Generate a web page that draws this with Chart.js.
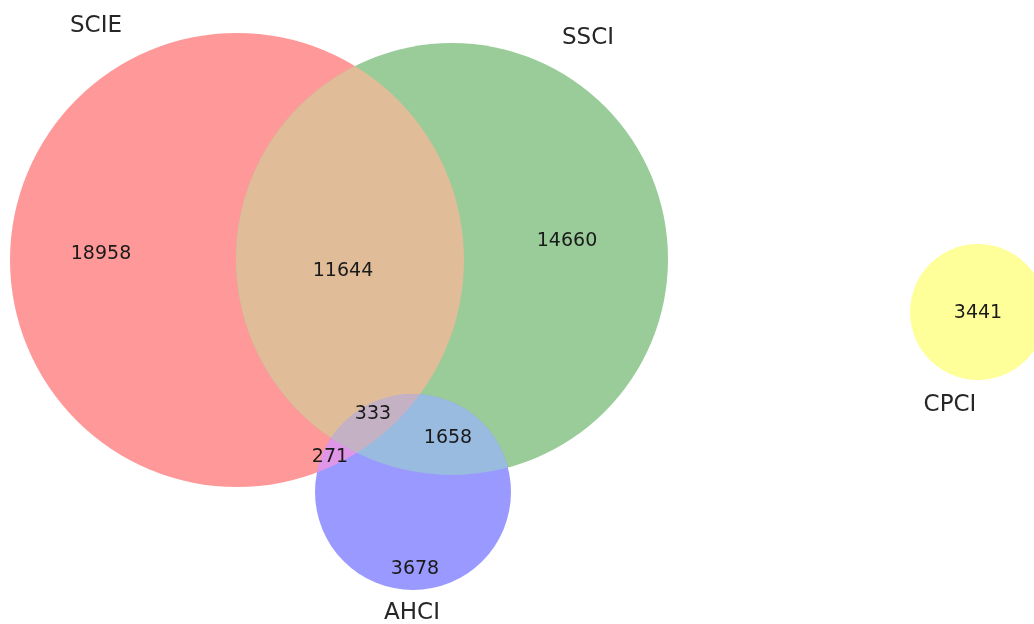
<!DOCTYPE html>
<html>
<head>
  <title>Index overlap</title>
  <script src="https://cdn.jsdelivr.net/npm/chart.js"></script>
  <style>
    body { margin: 0; background: #fff; }
    #wrap { width: 1034px; height: 624px; }
  </style>
</head>
<body>
  <div id="wrap"><canvas id="venn" width="1034" height="624"></canvas></div>
  <script>
    // set names and region counts
    const setNames = ['SCIE', 'SSCI', 'AHCI', 'CPCI'];
    const regionNames = ['SCIE only', 'SSCI only', 'SCIE&SSCI', 'SCIE&SSCI&AHCI', 'SSCI&AHCI', 'SCIE&AHCI', 'AHCI only', 'CPCI only'];
    const regionCounts = [18958, 14660, 11644, 333, 1658, 271, 3678, 3441];

    // circle layout (in chart units, same as the canvas size)
    const circleX = [237, 452, 413, 978];
    const circleY = [260, 259, 492, 312];
    const circleR = [227, 216, 98, 68];
    const setColors = ['#ff9999', '#99cc99', '#9999ff', '#ffff99'];

    // where the labels go
    const setLabelX = [96, 588, 412, 950];
    const setLabelY = [25, 37, 612, 404];
    const regionLabelX = [101, 567, 343, 373, 448, 330, 415, 978];
    const regionLabelY = [252, 239, 269, 412, 436, 455, 567, 311];

    const mixColors = {
      ab: '#e0bc98',
      bc: '#99bbe0',
      ac: '#e096e6',
      abc: '#c4b2c4'
    };

    const ctx = document.getElementById('venn').getContext('2d');

    function circlePath(c, chart, i) {
      const xs = chart.scales.x, ys = chart.scales.y;
      const px = xs.getPixelForValue(circleX[i]);
      const py = ys.getPixelForValue(circleY[i]);
      const pr = xs.getPixelForValue(circleX[i] + circleR[i]) - px;
      c.beginPath();
      c.arc(px, py, pr, 0, Math.PI * 2);
    }

    function fillClipped(c, chart, clips, target, color) {
      c.save();
      clips.forEach(i => { circlePath(c, chart, i); c.clip(); });
      circlePath(c, chart, target);
      c.fillStyle = color;
      c.fill();
      c.restore();
    }

    const vennPlugin = {
      id: 'venn',
      beforeDatasetsDraw(chart) {
        const c = chart.ctx;
        // base circles
        for (let i = 0; i < setNames.length; i++) {
          circlePath(c, chart, i);
          c.fillStyle = setColors[i];
          c.fill();
        }
        // overlaps
        fillClipped(c, chart, [0], 1, mixColors.ab);
        fillClipped(c, chart, [0], 2, mixColors.ac);
        fillClipped(c, chart, [1], 2, mixColors.bc);
        fillClipped(c, chart, [0, 1], 2, mixColors.abc);
      },
      afterDatasetsDraw(chart) {
        const c = chart.ctx;
        const xs = chart.scales.x, ys = chart.scales.y;
        c.save();
        c.textAlign = 'center';
        c.textBaseline = 'middle';
        c.fillStyle = '#262626';
        c.font = '23px "DejaVu Sans"';
        setNames.forEach((n, i) => {
          c.fillText(n, xs.getPixelForValue(setLabelX[i]), ys.getPixelForValue(setLabelY[i]) + 1);
        });
        c.font = '19px "DejaVu Sans"';
        c.fillStyle = '#1a1a1a';
        regionCounts.forEach((v, i) => {
          c.fillText(String(v), xs.getPixelForValue(regionLabelX[i]), ys.getPixelForValue(regionLabelY[i]) + 2);
        });
        c.restore();
      }
    };

    new Chart(ctx, {
      type: 'scatter',
      data: {
        datasets: [{
          label: 'regions',
          data: regionCounts.map((v, i) => ({ x: regionLabelX[i], y: regionLabelY[i] })),
          pointRadius: 0
        }]
      },
      options: {
        responsive: false,
        animation: false,
        layout: { padding: 0 },
        plugins: {
          legend: { display: false },
          tooltip: { enabled: false }
        },
        scales: {
          x: { type: 'linear', min: 0, max: 1034, display: false },
          y: { type: 'linear', min: 0, max: 624, reverse: true, display: false }
        }
      },
      plugins: [vennPlugin]
    });
  </script>
</body>
</html>
